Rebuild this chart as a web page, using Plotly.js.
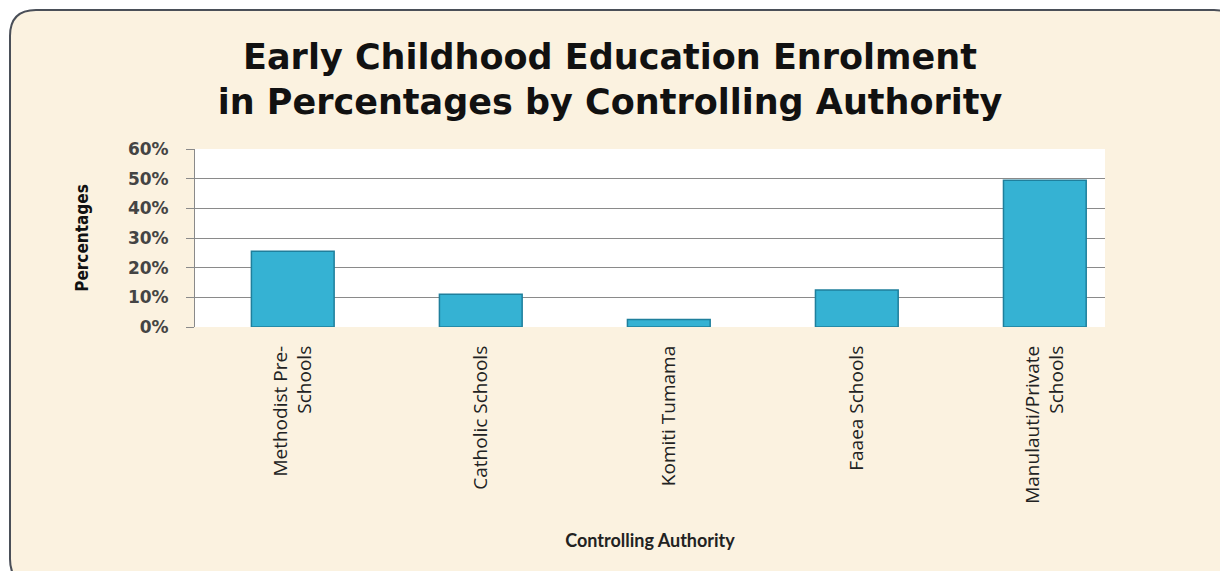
<!DOCTYPE html>
<html>
<head>
<meta charset="utf-8">
<script src="https://cdn.plot.ly/plotly-3.0.1.min.js"></script>
<style>html,body{margin:0;padding:0;background:#fff;}#chart{width:1220px;height:571px;}</style>
</head>
<body>
<div id="chart"></div>
<script>
const categories = ["Methodist Pre-<br>Schools", "Catholic Schools", "Komiti Tumama", "Faaea Schools", "Manulauti/Private<br>Schools"];
const percentages = [0.255, 0.11, 0.025, 0.125, 0.495];
const yTickValues = [0, 0.1, 0.2, 0.3, 0.4, 0.5, 0.6];
const yTickLabels = ["0%", "10%", "20%", "30%", "40%", "50%", "60%"];

const L = 195, R = 1105, T = 149, B = 327;
function px(x){ return (x - L) / (R - L); }
function py(y){ return (B - y) / (B - T); }
const x0 = px(10), x1 = px(1240), y0 = py(10), y1 = py(585);
const rx = 26/(R-L), ry = 26/(B-T);
const borderPath = `M ${x0} ${y0-ry} Q ${x0} ${y0} ${x0+rx} ${y0} L ${x1-rx} ${y0} Q ${x1} ${y0} ${x1} ${y0-ry} L ${x1} ${y1+ry} Q ${x1} ${y1} ${x1-rx} ${y1} L ${x0+rx} ${y1} Q ${x0} ${y1} ${x0} ${y1+ry} Z`;

const trace = {
  type: 'bar',
  x: categories,
  y: percentages,
  width: 0.44,
  marker: { color: '#35b2d3', line: { color: '#1f7f9c', width: 1.5 } },
  hoverinfo: 'x+y'
};

const layout = {
  width: 1220, height: 571,
  margin: { l: L, r: 1220 - R, t: T, b: 571 - B, pad: 0 },
  paper_bgcolor: '#ffffff',
  plot_bgcolor: 'rgba(0,0,0,0)',
  showlegend: false,
  title: {
    text: '<b>Early Childhood Education Enrolment<br>in Percentages by Controlling Authority</b>',
    font: { family: '"DejaVu Sans", sans-serif', size: 35, color: '#111' },
    x: 0.5, xanchor: 'center', yref: 'container', y: 0.88, yanchor: 'top'
  },
  xaxis: {
    type: 'category',
    tickangle: -90,
    tickfont: { family: '"Liberation Sans Narrow", "Open Sans", sans-serif', size: 19, color: '#222' },
    ticklabelstandoff: 14,
    showline: false, showgrid: false, ticks: '', zeroline: false,
    range: [-0.52, 4.32],
    title: { text: '<b>Controlling Authority</b>', font: { family: 'Lato, "Open Sans", sans-serif', size: 18, color: '#222' }, standoff: 31 },
    automargin: false
  },
  yaxis: {
    range: [0, 0.6],
    tickvals: yTickValues,
    ticktext: yTickLabels,
    tickfont: { family: '"DejaVu Sans", sans-serif', size: 17, color: '#444', weight: 'bold' },
    ticklabelstandoff: 14,
    showgrid: true, gridcolor: '#8a8a8a', gridwidth: 1,
    showline: true, linecolor: '#8a8a8a', linewidth: 1,
    ticks: 'outside', ticklen: 8, tickcolor: '#8a8a8a',
    zeroline: false,
    title: { text: '<b>Percentages</b>', font: { family: '"Liberation Sans Narrow", "DejaVu Sans Condensed", sans-serif', size: 17, color: '#111' }, standoff: 34 },
    automargin: false
  },
  shapes: [
    { type: 'path', xref: 'paper', yref: 'paper', path: borderPath, fillcolor: '#fbf2e0', line: { color: '#4a4f58', width: 2 }, layer: 'below' },
    { type: 'rect', xref: 'x domain', yref: 'y domain', x0: 0, x1: 1, y0: 0, y1: 1, fillcolor: '#ffffff', line: { width: 0 }, layer: 'below' }
  ]
};

Plotly.newPlot('chart', [trace], layout, { displayModeBar: false, staticPlot: true });
</script>
</body>
</html>
